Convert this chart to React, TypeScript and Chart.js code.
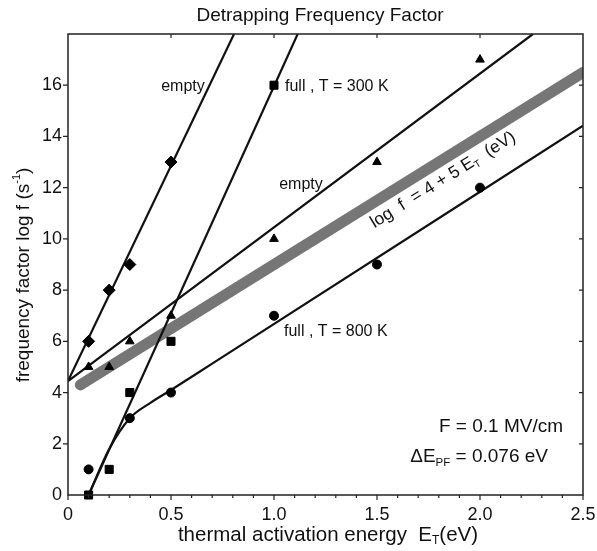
import React, { useEffect, useRef } from "react";
import { Chart, registerables } from "chart.js";

Chart.register(...registerables);

// ---- measured points ----
const diamondX = [0.1, 0.2, 0.3, 0.5];
const diamondY = [6, 8, 9, 13];
const squareX = [0.1, 0.2, 0.3, 0.5, 1.0];
const squareY = [0, 1, 4, 6, 16];
const triangleX = [0.1, 0.2, 0.3, 0.5, 1.0, 1.5, 2.0];
const triangleY = [5, 5, 6, 7, 10, 13, 17];
const circleX = [0.1, 0.3, 0.5, 1.0, 1.5, 2.0];
const circleY = [1, 3, 4, 7, 9, 12];

// ---- fitted curves ----
const emptyFastX = [0, 0.806];
const emptyFastY = [4.45, 18];
const fullFastX = [0.1, 1.115];
const fullFastY = [0, 18];
const emptySlowX = [0, 2.257];
const emptySlowY = [4.45, 18];
const fullSlowX = [0.1, 0.2, 0.3, 0.4, 0.5, 0.7, 2.5];
const fullSlowY = [0, 1.8, 3.0, 3.6, 4.1, 5.13, 14.42];
const grayX = [0.06, 2.5];
const grayY = [4.3, 16.5];

const xTicks = [0, 0.5, 1.0, 1.5, 2.0, 2.5];
const yTicks = [0, 2, 4, 6, 8, 10, 12, 14, 16, 18];

const FONT = '"Liberation Sans", Arial, Helvetica, sans-serif';

const zip = (xs: number[], ys: number[]) => xs.map((x, i) => ({ x, y: ys[i] }));

type Part = { t: string; size: number; dy?: number };

function drawRich(ctx: CanvasRenderingContext2D, parts: Part[], x: number, y: number, align: "left" | "center" | "right") {
  let total = 0;
  const widths = parts.map((p) => {
    ctx.font = `${p.size}px ${FONT}`;
    const w = ctx.measureText(p.t).width;
    total += w;
    return w;
  });
  let cx = align === "left" ? x : align === "center" ? x - total / 2 : x - total;
  ctx.textAlign = "left";
  ctx.textBaseline = "middle";
  parts.forEach((p, i) => {
    ctx.font = `${p.size}px ${FONT}`;
    ctx.fillText(p.t, cx, y + (p.dy || 0));
    cx += widths[i];
  });
}

const overlay = {
  id: "overlay",
  afterDraw(chart: any) {
    const { ctx, chartArea, scales } = chart;
    const { left, right, top, bottom } = chartArea;
    const xs = scales.x;
    const ys = scales.y;
    ctx.save();
    ctx.strokeStyle = "#222";
    ctx.lineWidth = 1.5;
    ctx.strokeRect(left, top, right - left, bottom - top);
    ctx.lineWidth = 1.2;
    ctx.beginPath();
    for (let i = 0; i <= 25; i++) {
      const v = i / 10;
      const px = xs.getPixelForValue(v);
      const major = i % 5 === 0;
      ctx.moveTo(px, bottom);
      ctx.lineTo(px, bottom + (major ? 5 : 3));
      if (major && i > 0 && i < 25) {
        ctx.moveTo(px, top);
        ctx.lineTo(px, top + 4);
      }
    }
    yTicks.forEach((v) => {
      const py = ys.getPixelForValue(v);
      if (v > 0 && v < 18) {
        ctx.moveTo(left, py);
        ctx.lineTo(left - 5, py);
        ctx.moveTo(right, py);
        ctx.lineTo(right - 4, py);
      }
    });
    ctx.stroke();

    ctx.fillStyle = "#111";
    // title
    drawRich(ctx, [{ t: "Detrapping Frequency Factor", size: 19 }], 320, 16, "center");

    // x axis title
    drawRich(
      ctx,
      [
        { t: "thermal activation energy  E", size: 20.5 },
        { t: "T", size: 12, dy: 6 },
        { t: "(eV)", size: 20.5 },
      ],
      328,
      535,
      "center"
    );

    // y axis title
    ctx.save();
    ctx.translate(24, 275);
    ctx.rotate(-Math.PI / 2);
    drawRich(
      ctx,
      [
        { t: "frequency factor log f (s", size: 19 },
        { t: "-1", size: 11, dy: -7 },
        { t: ")", size: 19 },
      ],
      0,
      0,
      "center"
    );
    ctx.restore();

    // curve labels
    drawRich(ctx, [{ t: "empty", size: 16 }], 183, 87, "center");
    drawRich(ctx, [{ t: "full , T = 300 K", size: 16 }], 285, 87, "left");
    drawRich(ctx, [{ t: "empty", size: 16 }], 301, 185, "center");
    drawRich(ctx, [{ t: "full , T = 800 K", size: 16 }], 284, 332, "left");

    // rotated formula
    ctx.save();
    ctx.translate(443, 180);
    ctx.rotate(-Math.atan2(5 * 25.6, 206));
    drawRich(
      ctx,
      [
        { t: "log  f  = 4 + 5 E", size: 17.5 },
        { t: "T", size: 10, dy: 5 },
        { t: "  (eV)", size: 17.5 },
      ],
      0,
      0,
      "center"
    );
    ctx.restore();

    // parameters
    drawRich(ctx, [{ t: "F = 0.1 MV/cm", size: 19 }], 563, 427, "right");
    drawRich(
      ctx,
      [
        { t: "\u0394E", size: 19 },
        { t: "PF", size: 11.5, dy: 6 },
        { t: " = 0.076 eV", size: 19 },
      ],
      548,
      457,
      "right"
    );
    ctx.restore();
  },
};

export default function App() {
  const ref = useRef<HTMLCanvasElement | null>(null);
  useEffect(() => {
    if (!ref.current) return;
    const lineDs = (xs: number[], ys: number[], extra: any = {}) => ({
      type: "line" as const,
      data: zip(xs, ys),
      showLine: true,
      borderColor: "#111",
      borderWidth: 2.2,
      pointRadius: 0,
      fill: false,
      tension: 0,
      ...extra,
    });
    const ptDs = (xs: number[], ys: number[], style: string, r: number) => ({
      type: "scatter" as const,
      data: zip(xs, ys),
      pointStyle: style,
      pointRadius: r,
      backgroundColor: "#000",
      borderColor: "#000",
      borderWidth: 1,
      showLine: false,
      clip: false,
    });
    const chart = new Chart(ref.current, {
      type: "scatter",
      data: {
        datasets: [
          ptDs(diamondX, diamondY, "rectRot", 6),
          ptDs(squareX, squareY, "rect", 5.7),
          ptDs(triangleX, triangleY, "triangle", 5),
          ptDs(circleX, circleY, "circle", 4.5),
          lineDs(emptyFastX, emptyFastY),
          lineDs(fullFastX, fullFastY),
          lineDs(emptySlowX, emptySlowY),
          lineDs(fullSlowX, fullSlowY, { cubicInterpolationMode: "monotone" }),
          lineDs(grayX, grayY, { borderColor: "#767676", borderWidth: 11, borderCapStyle: "round" }),
        ] as any,
      },
      options: {
        animation: false,
        responsive: false,
        devicePixelRatio: 1,
        layout: { padding: { top: 34, right: 14, left: 0, bottom: 0 } },
        plugins: { legend: { display: false }, tooltip: { enabled: false }, title: { display: false } },
        scales: {
          x: {
            type: "linear",
            min: 0,
            max: 2.5,
            afterFit: (s: any) => {
              s.height = 56;
              s.paddingLeft = 0;
              s.paddingRight = 0;
            },
            afterBuildTicks: (s: any) => {
              s.ticks = xTicks.map((v) => ({ value: v }));
            },
            grid: { display: false, drawTicks: false },
            border: { display: false },
            ticks: {
              padding: 9,
              maxRotation: 0,
              color: "#111",
              font: { size: 18, family: FONT },
              callback: (v: any) => (v === 0 ? "0" : Number(v).toFixed(1)),
            },
          },
          y: {
            type: "linear",
            min: 0,
            max: 18,
            afterFit: (s: any) => {
              s.width = 68;
              s.paddingTop = 0;
              s.paddingBottom = 0;
            },
            afterBuildTicks: (s: any) => {
              s.ticks = yTicks.map((v) => ({ value: v }));
            },
            grid: { display: false, drawTicks: false },
            border: { display: false },
            ticks: {
              padding: 6,
              color: "#111",
              font: { size: 18, family: FONT },
              callback: (v: any) => (v === 18 ? "" : String(v)),
            },
          },
        },
      } as any,
      plugins: [overlay],
    });
    return () => chart.destroy();
  }, []);
  return (
    <div style={{ position: "fixed", left: 0, top: 0, width: 597, height: 551, background: "#fff" }}>
      <canvas ref={ref} width={597} height={551} style={{ width: 597, height: 551 }} />
    </div>
  );
}
